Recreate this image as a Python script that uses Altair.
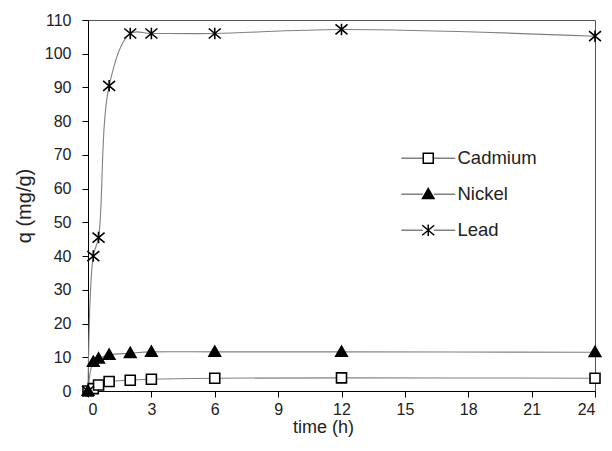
import altair as alt
import pandas as pd

time_h = [0, 0.25, 0.5, 1, 2, 3, 6, 12, 24]
cadmium = [0, 0.7, 1.8, 2.8, 3.2, 3.5, 3.8, 3.9, 3.8]
nickel = [0, 8.6, 9.6, 10.7, 11.2, 11.6, 11.6, 11.6, 11.5]
lead = [0, 40, 45.5, 90.5, 106, 106, 106, 107.2, 105.2]
series = ["Cadmium", "Nickel", "Lead"]
x_ticks = [0, 3, 6, 9, 12, 15, 18, 21, 24]
y_ticks = [0, 10, 20, 30, 40, 50, 60, 70, 80, 90, 100, 110]

rows = []
for name, vals in zip(series, [cadmium, nickel, lead]):
    for t, v in zip(time_h, vals):
        rows.append({"time": t, "q": v, "metal": name})
df = pd.DataFrame(rows)

sq = "M-1,-1L1,-1L1,1L-1,1Z"
tri = "M0,-1.15L1.15,0.85L-1.15,0.85Z"
star = "M-1.2,-1L1.2,1M-1.2,1L1.2,-1M0,-1.15L0,1.15"
leg_line = "M-5.4,0L-1.1,0M1.1,0L5.4,0"
fills = ["white", "black", "black"]
strokes = ["black", "black", "black"]
line_grey = ["#808080", "#808080", "#808080"]

font = "Liberation Sans"

x_enc = alt.X("time:Q", scale=alt.Scale(domain=[0, 24], nice=False),
              axis=alt.Axis(values=x_ticks, title="time (h)", titleX=235,
                            titlePadding=1, labelPadding=4, titleFontSize=18))
y_enc = alt.Y("q:Q", scale=alt.Scale(domain=[0, 110], nice=False),
              axis=alt.Axis(values=y_ticks, title="q (mg/g)", titlePadding=10,
                            labelPadding=11))

lines = alt.Chart(df).mark_line(color="#808080", strokeWidth=1.1,
                                interpolate="catmull-rom").encode(
    x=x_enc, y=y_enc, detail="metal:N")

points = alt.Chart(df).mark_point(filled=True, stroke="black", strokeWidth=1.6,
                                  size=100, opacity=1).encode(
    x=x_enc, y=y_enc,
    shape=alt.Shape("metal:N", scale=alt.Scale(domain=series, range=[sq, tri, star]),
                    legend=None),
    fill=alt.Fill("metal:N", scale=alt.Scale(domain=series, range=fills), legend=None),
)

base_leg = dict(title=None, orient="none", legendX=331, legendY=129,
                labelFontSize=18.5, labelFont=font, labelColor="#222",
                labelOffset=20, rowPadding=17, padding=0,
                symbolSize=100, symbolStrokeWidth=1.5)

leg_marks = alt.Legend(**base_leg)
leg_lines = alt.Legend(**base_leg, labelOpacity=0)

legend_lines_layer = alt.Chart(df).transform_filter("false").mark_point(
    filled=False, strokeWidth=1.2, size=100, opacity=1).encode(
    x=x_enc, y=y_enc,
    shape=alt.Shape("metal:N", sort=series,
                    scale=alt.Scale(domain=series, range=[leg_line] * 3),
                    legend=leg_lines),
    stroke=alt.Stroke("metal:N", sort=series,
                      scale=alt.Scale(domain=series, range=line_grey),
                      legend=leg_lines),
)

legend_marks_layer = alt.Chart(df).transform_filter("false").mark_point(
    filled=True, strokeWidth=1.5, size=100, opacity=1).encode(
    x=x_enc, y=y_enc,
    shape=alt.Shape("metal:N", sort=series,
                    scale=alt.Scale(domain=series, range=[sq, tri, star]),
                    legend=leg_marks),
    fill=alt.Fill("metal:N", sort=series,
                  scale=alt.Scale(domain=series, range=fills),
                  legend=leg_marks),
    stroke=alt.Stroke("metal:N", sort=series,
                      scale=alt.Scale(domain=series, range=strokes),
                      legend=leg_marks),
)

chart = alt.layer(lines, points, legend_lines_layer, legend_marks_layer).resolve_scale(
    shape="independent", fill="independent", stroke="independent"
).properties(
    width=507, height=371,
    autosize=alt.AutoSizeParams(type="none"),
    padding={"left": 80, "top": 12, "right": 9, "bottom": 46},
).configure_view(
    stroke="#555", strokeWidth=1
).configure_axis(
    grid=False, domainColor="black", tickColor="black", tickSize=6,
    labelFont=font, labelFontSize=16, labelColor="#222",
    titleFont=font, titleFontSize=20, titleFontWeight="normal", titleColor="#222",
)

chart.save("out.html", embed_options={"renderer": "svg", "actions": False})
